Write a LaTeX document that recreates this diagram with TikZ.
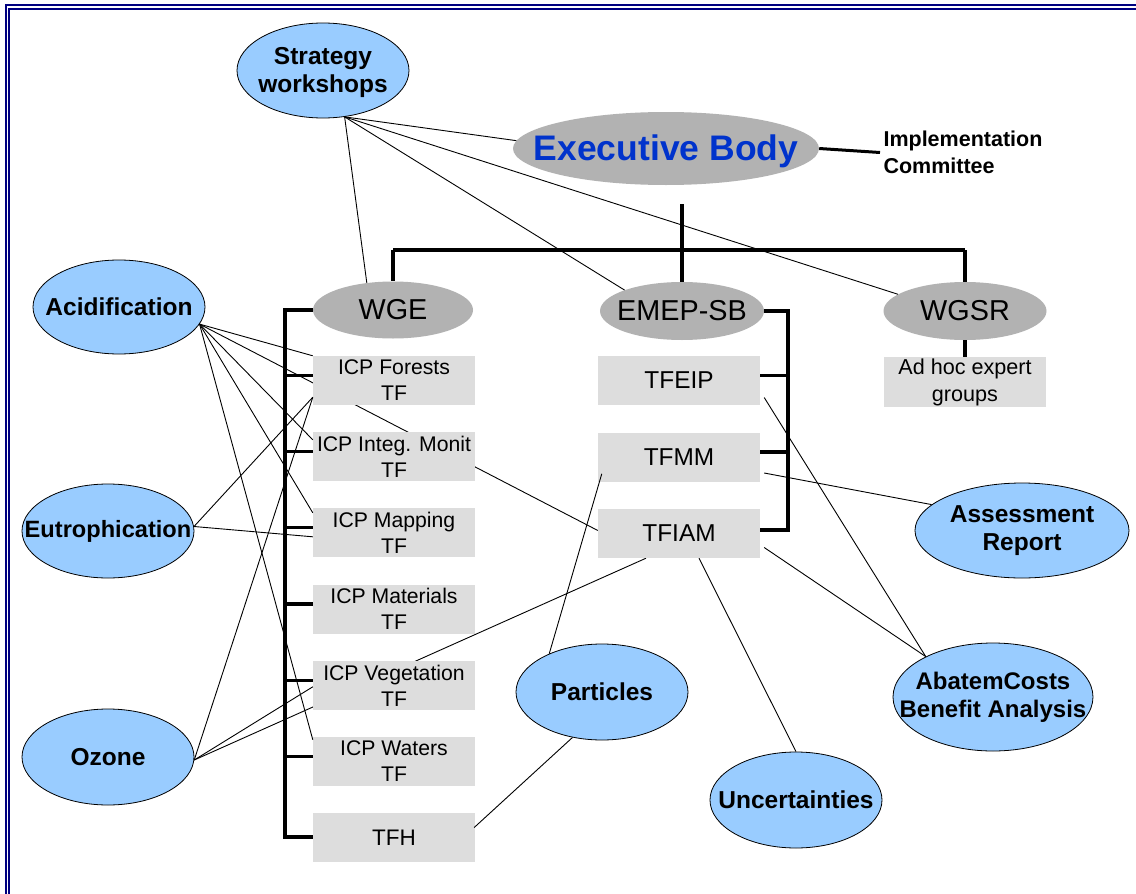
\documentclass[tikz,border=0pt]{standalone}
\usepackage{fontspec}
\setmainfont{Liberation Sans}
\usetikzlibrary{calc,shapes.geometric}
\pgfdeclarelayer{bg}
\pgfsetlayers{bg,main}
\definecolor{lblue}{HTML}{99CCFF}
\definecolor{wggray}{HTML}{B2B2B2}
\definecolor{boxgray}{HTML}{DDDDDD}
\definecolor{ebblue}{HTML}{0033CC}
\definecolor{navyb}{HTML}{000080}
\begin{document}
\begin{tikzpicture}[x=1pt,y=-1pt,
  topic/.style={ellipse, draw=black, line width=0.8pt, fill=lblue, inner sep=0pt, minimum width=172pt, minimum height=95pt},
  ttext/.style={font=\fontsize{24.5}{28}\selectfont\bfseries, align=center, inner sep=0pt},
  wg/.style={ellipse, fill=wggray, inner sep=0pt, minimum width=162pt, minimum height=57pt},
  wgtext/.style={font=\fontsize{28.8}{32}\selectfont, inner sep=0pt},
  tfbox/.style={rectangle, fill=boxgray, inner sep=0pt, minimum width=162pt, minimum height=49pt, align=center, font=\fontsize{21.2}{26}\selectfont},
  tfbig/.style={tfbox, font=\fontsize{24.4}{28}\selectfont},
  link/.style={line width=0.9pt, black},
  bracket/.style={line width=3.5pt, black},
]
\useasboundingbox (0,0) rectangle (1136,894);
\begin{pgfonlayer}{bg}
\fill[white] (0,0) rectangle (1136,894);
\end{pgfonlayer}
\begin{scope}
  \clip (0,0) rectangle (1136,894);
  \draw[navyb, line width=1.8pt] (5.8,4.8) rectangle (1170,930);
  \draw[navyb, line width=1.8pt] (9.2,8.8) rectangle (1166,926);
\end{scope}

% top level
\node[topic, label={[ttext, yshift=-2pt]center:Strategy\\workshops}] (strat) at (323,70.5) {};
\node[wg, minimum width=306pt, minimum height=73pt,
  label={[font=\fontsize{35.5}{40}\selectfont\bfseries, text=ebblue, inner sep=0pt, yshift=-3pt]center:Executive Body}] (exec) at (666,148.5) {};
\node[font=\fontsize{21.5}{27}\selectfont\bfseries, align=left, anchor=west] (impl) at (880,152.5) {Implementation\\Committee};

\node[wg, minimum width=160pt, minimum height=57pt, label={[wgtext]center:WGE}] (wge) at (393,310) {};
\node[wg, minimum width=164pt, minimum height=58pt, label={[wgtext]center:EMEP-SB}] (emep) at (682,311) {};
\node[wg, minimum width=163pt, minimum height=58pt, label={[wgtext]center:WGSR}] (wgsr) at (965,311) {};

% WGE boxes
\node[tfbox] (icpf) at (394,380.5) {ICP Forests\\TF};
\node[tfbox] (icpi) at (394,456.5) {ICP Integ. Monit\\TF};
\node[tfbox] (icpm) at (394,532.5) {ICP Mapping\\TF};
\node[tfbox] (icpmat) at (394,609) {ICP Materials\\TF};
\node[tfbox] (icpv) at (394,685.5) {ICP Vegetation\\TF};
\node[tfbox] (icpw) at (394,761.5) {ICP Waters\\TF};
\node[tfbox, font=\fontsize{22.5}{26}\selectfont] (tfh) at (394,837.5) {TFH};
% EMEP boxes
\node[tfbig] (tfeip) at (679,380.5) {TFEIP};
\node[tfbig] (tfmm) at (679,457) {TFMM};
\node[tfbig] (tfiam) at (679,533.5) {TFIAM};
% WGSR box
\node[tfbox, minimum height=50pt, font=\fontsize{21.6}{27}\selectfont] (adhoc) at (965,382) {Ad hoc expert\\groups};

% topics
\node[topic, minimum width=172pt, minimum height=94pt, label={[ttext]center:Acidification}] (acid) at (119,307) {};
\node[topic, minimum width=172pt, minimum height=94pt, label={[ttext, font=\fontsize{23.6}{28}\selectfont\bfseries]center:Eutrophication}] (eutro) at (108,531) {};
\node[topic, minimum width=172pt, minimum height=96pt, label={[ttext]center:Ozone}] (ozone) at (108,757) {};
\node[topic, minimum width=172pt, minimum height=96pt, label={[ttext]center:Particles}] (part) at (602,692) {};
\node[topic, minimum width=172pt, minimum height=96pt, label={[ttext]center:Uncertainties}] (unc) at (796,800) {};
\node[topic, minimum width=200pt, minimum height=108pt, label={[ttext, font=\fontsize{24}{28}\selectfont\bfseries]center:AbatemCosts\\Benefit Analysis}] (abat) at (993,697) {};
\node[topic, minimum width=214pt, minimum height=95pt, label={[ttext]center:Assessment\\Report}] (assess) at (1022,530.5) {};

% hierarchy
\coordinate (ebdrop) at (682,204);
\coordinate (barM) at (682,250);
\coordinate (barL) at (393,250);
\coordinate (barR) at (965,250);
\draw[line width=3pt] (exec.east) -- (impl.west);
\draw[bracket] (ebdrop) -- (barM);
\draw[bracket] (barL) -- (barR);
\draw[bracket] (barL) -- (wge.north);
\draw[bracket] (barM) -- (emep.north);
\draw[bracket] (barR) -- (wgsr.north);
\draw[bracket] (wgsr.south) -- (adhoc.north);

\draw[bracket, line join=miter] (wge.west) -| ($(tfh.west)+(-28,-0.5)$) -- ($(tfh.west)+(0,-0.5)$);
\foreach \b in {icpf,icpi,icpm,icpmat,icpv,icpw}
  \draw[bracket] ($(\b.west)+(0,-5)$) -- ++(-28,0);
\draw[bracket, line join=miter] (emep.east) -| ($(tfiam.east)+(28,-3.5)$) -- ($(tfiam.east)+(0,-3.5)$);
\foreach \b in {tfeip,tfmm}
  \draw[bracket] ($(\b.east)+(0,-5)$) -- ++(28,0);

% strategy links
\draw[link] (strat.-65) -- (exec.177);
\draw[link] (strat.-65) -- (wge.134);
\draw[link] (strat.-65) -- (emep.160);
\draw[link] (strat.-65) -- (wgsr.166);

% acidification links
\draw[link] (acid.-12) -- (icpf.north west);
\draw[link] (acid.-12) -- ($(icpi.north west)+(0,8)$);
\draw[link] (acid.-12) -- ($(icpm.north west)+(0,5)$);
\draw[link] (acid.-12) -- ($(icpw.north west)+(0,3)$);
% eutrophication links
\draw[link] (eutro.3) -- ($(icpf.south west)+(0,-8)$);
\draw[link] (eutro.3) -- ($(icpm.north west)+(0,29)$);
% ozone links
\draw[link] (ozone.-2) -- ($(icpf.south west)+(0,-8)$);
\draw[link] (ozone.-2) -- ($(icpv.north west)+(0,26)$);

\begin{pgfonlayer}{bg}
\draw[link] (acid.-12) -- ($(tfiam.west)+(0,-3)$);
\draw[link] (ozone.-2) -- ($(tfiam.south)+(-33,0)$);
\end{pgfonlayer}

% EMEP links
\draw[link] ($(tfmm.south west)+(4,-8)$) -- (part.144);
\draw[link] ($(tfmm.east)+(4,16)$) -- (assess.164);
\draw[link] ($(tfeip.east)+(4,17)$) -- (abat.149);
\draw[link] ($(tfiam.east)+(4,14)$) -- (abat.149);
\draw[link] ($(tfiam.south)+(20,0)$) -- (unc.north);
\draw[link] (part.-123) -- ($(tfh.east)+(-1,-10)$);
\end{tikzpicture}
\end{document}
